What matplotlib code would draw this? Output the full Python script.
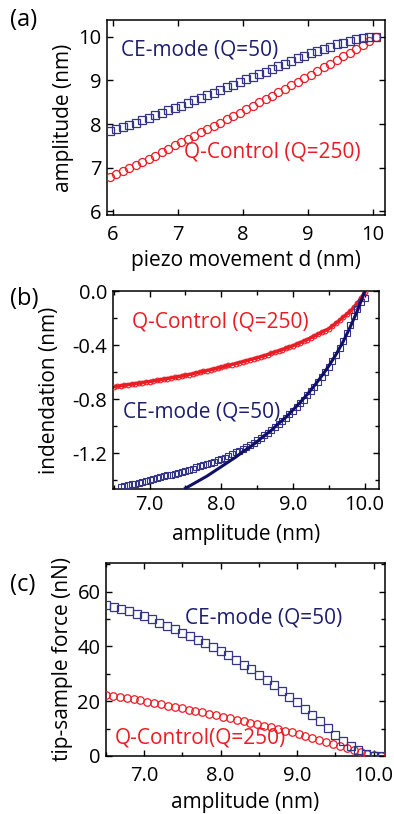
"""Amplitude, indentation and tip-sample force: CE-mode vs Q-Control (three panels)."""

import matplotlib

matplotlib.use("Agg")

import matplotlib.pyplot as plt
from matplotlib.ticker import MultipleLocator

OUTPUT_PATH = "out.png"
FIG_DPI = 100

NAVY = "#1e1e70"
NAVY_MARK = "#343488"
RED = "#ec1c24"

LABEL_SIZE = 15
NOTE_SIZE = 15

# ---------- panel (a): amplitude vs piezo movement ----------
A_X = [5.95, 6.05, 6.15, 6.25, 6.35, 6.45, 6.55, 6.65, 6.75, 6.85, 6.95,
       7.05, 7.15, 7.25, 7.35, 7.45, 7.55, 7.65, 7.75, 7.85, 7.95,
       8.05, 8.15, 8.25, 8.35, 8.45, 8.55, 8.65, 8.75, 8.85, 8.95,
       9.05, 9.15, 9.25, 9.35, 9.45, 9.55, 9.65, 9.75, 9.85, 9.95, 10.05]
A_CE = [7.83, 7.88, 7.93, 7.98, 8.03, 8.09, 8.14, 8.20, 8.25, 8.31, 8.37,
        8.42, 8.48, 8.54, 8.60, 8.66, 8.72, 8.78, 8.84, 8.90, 8.96,
        9.02, 9.08, 9.14, 9.20, 9.26, 9.32, 9.38, 9.44, 9.50, 9.56,
        9.62, 9.67, 9.72, 9.77, 9.82, 9.86, 9.90, 9.94, 9.97, 9.99, 10.00]
A_QC = [6.78, 6.85, 6.92, 6.99, 7.06, 7.14, 7.21, 7.28, 7.36, 7.43, 7.51,
        7.58, 7.66, 7.73, 7.81, 7.88, 7.96, 8.03, 8.11, 8.19, 8.26,
        8.34, 8.42, 8.50, 8.57, 8.65, 8.73, 8.81, 8.89, 8.97, 9.05,
        9.13, 9.21, 9.30, 9.38, 9.46, 9.55, 9.63, 9.72, 9.81, 9.90, 9.99]

# ---------- panel (b): indentation vs amplitude ----------
B_CE_X = [6.60, 6.65, 6.70, 6.75, 6.80, 6.85, 6.90, 6.95, 7.00, 7.05, 7.10, 7.15,
          7.20, 7.25, 7.30, 7.35, 7.40, 7.45, 7.50, 7.55, 7.60, 7.65, 7.70, 7.75,
          7.80, 7.85, 7.90, 7.95, 8.00, 8.05, 8.10, 8.15, 8.20, 8.25, 8.30, 8.35,
          8.40, 8.45, 8.50, 8.55, 8.60, 8.65, 8.70, 8.75, 8.80, 8.85, 8.90, 8.95,
          9.00, 9.05, 9.10, 9.15, 9.20, 9.25, 9.30, 9.35, 9.40, 9.45, 9.50, 9.55,
          9.60, 9.65, 9.70, 9.75, 9.80, 9.85, 9.90, 9.95, 10.00]
B_CE_Y = [-1.450, -1.444, -1.437, -1.431, -1.425, -1.418, -1.412, -1.406, -1.400,
          -1.393, -1.386, -1.379, -1.372, -1.365, -1.358, -1.351, -1.344, -1.337,
          -1.330, -1.322, -1.314, -1.306, -1.298, -1.290, -1.281, -1.272, -1.263,
          -1.254, -1.245, -1.233, -1.221, -1.208, -1.195, -1.182, -1.168, -1.153,
          -1.138, -1.122, -1.105, -1.087, -1.068, -1.048, -1.028, -1.007, -0.985,
          -0.962, -0.938, -0.913, -0.887, -0.860, -0.832, -0.803, -0.773, -0.742,
          -0.709, -0.675, -0.639, -0.601, -0.561, -0.518, -0.472, -0.423, -0.370,
          -0.313, -0.252, -0.186, -0.130, -0.085, -0.050]
B_CE_FIT_X = [7.5, 7.6, 7.7, 7.8, 7.9, 8.0, 8.1, 8.2, 8.3, 8.4, 8.5, 8.6, 8.7,
              8.8, 8.9, 9.0, 9.1, 9.2, 9.3, 9.4, 9.5, 9.6, 9.7, 9.8, 9.9, 9.95, 10.0]
B_CE_FIT_Y = [-1.46, -1.43, -1.40, -1.37, -1.335, -1.30, -1.265, -1.23, -1.19,
              -1.155, -1.115, -1.07, -1.03, -0.98, -0.935, -0.88, -0.825, -0.765,
              -0.70, -0.63, -0.555, -0.47, -0.375, -0.265, -0.145, -0.075, 0.0]
B_QC_X = [6.50, 6.55, 6.60, 6.65, 6.70, 6.75, 6.80, 6.85, 6.90, 6.95, 7.00, 7.05,
          7.10, 7.15, 7.20, 7.25, 7.30, 7.35, 7.40, 7.45, 7.50, 7.55, 7.60, 7.65,
          7.70, 7.75, 7.80, 7.85, 7.90, 7.95, 8.00, 8.05, 8.10, 8.15, 8.20, 8.25,
          8.30, 8.35, 8.40, 8.45, 8.50, 8.55, 8.60, 8.65, 8.70, 8.75, 8.80, 8.85,
          8.90, 8.95, 9.00, 9.05, 9.10, 9.15, 9.20, 9.25, 9.30, 9.35, 9.40, 9.45,
          9.50, 9.55, 9.60, 9.65, 9.70, 9.75, 9.80, 9.85, 9.90, 9.95, 10.00]
B_QC_Y = [-0.710, -0.706, -0.702, -0.698, -0.694, -0.690, -0.686, -0.682, -0.678,
          -0.674, -0.670, -0.666, -0.661, -0.657, -0.652, -0.648, -0.643, -0.639,
          -0.634, -0.630, -0.625, -0.619, -0.613, -0.607, -0.601, -0.595, -0.589,
          -0.583, -0.577, -0.571, -0.565, -0.558, -0.551, -0.544, -0.537, -0.530,
          -0.523, -0.516, -0.509, -0.502, -0.495, -0.487, -0.479, -0.470, -0.461,
          -0.452, -0.443, -0.434, -0.424, -0.415, -0.405, -0.394, -0.383, -0.371,
          -0.359, -0.346, -0.333, -0.319, -0.305, -0.293, -0.280, -0.259, -0.238,
          -0.216, -0.194, -0.172, -0.150, -0.120, -0.090, -0.050, -0.010]

# ---------- panel (c): tip-sample force vs amplitude ----------
C_CE_X = [6.5, 6.6, 6.7, 6.8, 6.9, 7.0, 7.1, 7.2, 7.3, 7.4, 7.5, 7.6, 7.7,
          7.8, 7.9, 8.0, 8.1, 8.2, 8.3, 8.4, 8.5, 8.6, 8.7, 8.8, 8.9, 9.0,
          9.1, 9.2, 9.3, 9.4, 9.5, 9.6, 9.7, 9.8, 9.9, 10.0, 10.1]
C_CE_Y = [55.3, 54.5, 53.7, 52.8, 51.9, 51.0, 49.9, 48.7, 47.5, 46.3, 45.0,
          43.8, 42.5, 41.2, 39.9, 38.5, 36.9, 35.2, 33.4, 31.6, 29.7, 27.8,
          25.8, 23.8, 21.7, 19.6, 17.3, 15.0, 12.6, 10.1, 7.7, 5.5, 3.6, 2.0,
          0.8, 0.1, 0.0]
C_QC_X = [6.50, 6.59, 6.68, 6.77, 6.86, 6.95, 7.04, 7.13, 7.22, 7.31, 7.40,
          7.49, 7.58, 7.67, 7.76, 7.85, 7.94, 8.03, 8.12, 8.21, 8.30, 8.39,
          8.48, 8.57, 8.66, 8.75, 8.84, 8.93, 9.02, 9.11, 9.20, 9.29, 9.38,
          9.47, 9.56, 9.65, 9.74, 9.83, 9.92, 10.01, 10.10]
C_QC_Y = [22.4, 22.0, 21.6, 21.1, 20.7, 20.3, 19.8, 19.4, 18.9, 18.4, 17.9,
          17.4, 16.9, 16.4, 15.9, 15.4, 14.9, 14.4, 13.9, 13.3, 12.7, 12.2,
          11.6, 11.0, 10.4, 9.8, 9.2, 8.6, 7.9, 7.2, 6.5, 5.8, 5.1, 4.4,
          3.7, 2.9, 2.1, 1.3, 0.6, 0.2, 0.0]


def configure_style() -> None:
    plt.rcParams["font.family"] = ["Open Sans", "DejaVu Sans"]
    plt.rcParams["axes.unicode_minus"] = False
    plt.rcParams["axes.linewidth"] = 1.1
    plt.rcParams["xtick.direction"] = "in"
    plt.rcParams["ytick.direction"] = "in"
    plt.rcParams["xtick.top"] = True
    plt.rcParams["ytick.right"] = True
    plt.rcParams["xtick.major.size"] = 4.5
    plt.rcParams["ytick.major.size"] = 4.5
    plt.rcParams["xtick.minor.size"] = 2.8
    plt.rcParams["ytick.minor.size"] = 2.8
    plt.rcParams["xtick.major.width"] = 1.0
    plt.rcParams["ytick.major.width"] = 1.0
    plt.rcParams["xtick.minor.width"] = 1.0
    plt.rcParams["ytick.minor.width"] = 1.0
    plt.rcParams["xtick.major.pad"] = 4
    plt.rcParams["ytick.major.pad"] = 4
    plt.rcParams["xtick.labelsize"] = 14.5
    plt.rcParams["ytick.labelsize"] = 14.5
    plt.rcParams["axes.labelsize"] = LABEL_SIZE


def open_marker(ax, x, y, marker, color, size, mew=0.9, zorder=3):
    ax.plot(x, y, linestyle="none", marker=marker, markersize=size,
            markerfacecolor="none", markeredgecolor=color,
            markeredgewidth=mew, zorder=zorder)


def plot_panel_a(fig) -> None:
    ax = fig.add_axes([0.2716, 0.7359, 0.7056, 0.2396])
    open_marker(ax, A_X, A_QC, "o", RED, 5.8)
    open_marker(ax, A_X, A_CE, "s", NAVY_MARK, 5.8)

    ax.set_xlim(5.91, 10.19)
    ax.set_ylim(5.92, 10.38)
    ax.xaxis.set_major_locator(MultipleLocator(1))
    ax.yaxis.set_major_locator(MultipleLocator(1))
    ax.tick_params(axis="x", pad=7)
    ax.set_xlabel("piezo movement d (nm)", labelpad=4)
    ax.set_ylabel("amplitude (nm)", labelpad=3)

    ax.text(6.13, 9.7, "CE-mode (Q=50)", color=NAVY, fontsize=NOTE_SIZE, va="center")
    ax.text(7.1, 7.35, "Q-Control (Q=250)", color=RED, fontsize=NOTE_SIZE, va="center")
    fig.text(0.025, 0.976, "(a)", fontsize=17, va="center")


def plot_panel_b(fig) -> None:
    ax = fig.add_axes([0.2868, 0.3993, 0.6751, 0.2432])
    ax.plot(B_QC_X, B_QC_Y, color=RED, linewidth=2.4, zorder=2)
    open_marker(ax, B_QC_X, B_QC_Y, "o", RED, 3.4, mew=0.8)
    open_marker(ax, B_CE_X, B_CE_Y, "s", NAVY_MARK, 3.8, mew=0.8)
    ax.plot(B_CE_FIT_X, B_CE_FIT_Y, color="#10106a", linewidth=2.2, zorder=4)

    ax.set_xlim(6.49, 10.2)
    ax.set_ylim(-1.465, 0.0)
    ax.xaxis.set_major_locator(MultipleLocator(1))
    ax.xaxis.set_minor_locator(MultipleLocator(0.5))
    ax.yaxis.set_major_locator(MultipleLocator(0.4))
    ax.yaxis.set_minor_locator(MultipleLocator(0.2))
    ax.xaxis.set_major_formatter("{x:.1f}")
    ax.yaxis.set_major_formatter("{x:.1f}")
    ax.tick_params(axis="x", pad=4.5)
    ax.set_xlabel("amplitude (nm)", labelpad=6)
    ax.set_ylabel("indendation (nm)", labelpad=9)

    ax.text(6.76, -0.226, "Q-Control (Q=250)", color=RED, fontsize=NOTE_SIZE, va="center")
    ax.text(6.63, -0.895, "CE-mode (Q=50)", color=NAVY, fontsize=NOTE_SIZE, va="center")
    fig.text(0.025, 0.633, "(b)", fontsize=17, va="center")


def plot_panel_c(fig) -> None:
    ax = fig.add_axes([0.269, 0.0713, 0.7081, 0.2371])
    open_marker(ax, C_QC_X, C_QC_Y, "o", RED, 5.4)
    open_marker(ax, C_CE_X, C_CE_Y, "s", NAVY_MARK, 6.2)

    ax.set_xlim(6.5, 10.15)
    ax.set_ylim(0, 70.5)
    ax.xaxis.set_major_locator(MultipleLocator(1))
    ax.xaxis.set_minor_locator(MultipleLocator(0.5))
    ax.yaxis.set_major_locator(MultipleLocator(20))
    ax.yaxis.set_minor_locator(MultipleLocator(10))
    ax.xaxis.set_major_formatter("{x:.1f}")
    ax.tick_params(axis="x", pad=7.5)
    ax.set_xlabel("amplitude (nm)", labelpad=4)
    ax.set_ylabel("tip-sample force (nN)", labelpad=3)

    ax.text(7.53, 50.3, "CE-mode (Q=50)", color=NAVY, fontsize=NOTE_SIZE, va="center")
    ax.text(6.62, 6.6, "Q-Control(Q=250)", color=RED, fontsize=NOTE_SIZE, va="center")
    fig.text(0.025, 0.281, "(c)", fontsize=17, va="center")


def main() -> None:
    configure_style()
    fig = plt.figure(figsize=(3.94, 8.14), dpi=FIG_DPI)
    plot_panel_a(fig)
    plot_panel_b(fig)
    plot_panel_c(fig)
    fig.savefig(OUTPUT_PATH, dpi=FIG_DPI)
    plt.close(fig)


if __name__ == "__main__":
    main()
